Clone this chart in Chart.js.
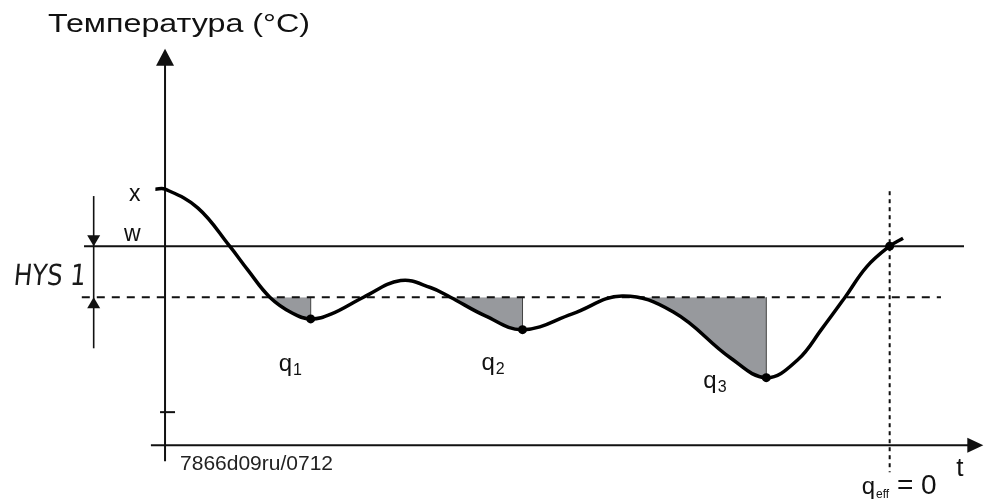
<!DOCTYPE html>
<html>
<head>
<meta charset="utf-8">
<script src="https://cdn.jsdelivr.net/npm/chart.js@4.4.1/dist/chart.umd.min.js"></script>
<style>
  html, body { margin: 0; padding: 0; background: #fff; }
  #wrap { width: 998px; height: 504px; position: relative; }
</style>
</head>
<body>
<div id="wrap"><canvas id="hysChart"></canvas></div>
<script>
// temperature curve: time (arbitrary units) / temperature (°C)
var curveTime = [-1.3, 0, 4.4, 8.7, 11.1, 14.1, 17.1, 19.6, 22.4, 26.7, 31.7, 35.7, 38.4, 43.1, 48.1, 54.8, 61.5, 68.4, 76.1, 80.9, 85.1, 88.4, 91.5, 94.4, 97.5, 99.3];
var curveTemp = [22.23, 22.23, 21.5, 20.0, 19.08, 18.0, 17.38, 17.15, 17.35, 18.0, 18.65, 18.38, 18.0, 17.27, 16.73, 17.35, 18.05, 17.42, 15.62, 14.85, 15.54, 16.77, 18.0, 19.19, 20.0, 20.31];

var setpoint = 20;   // w
var hys = 2;         // HYS 1

// shaded areas q1..q3
var qStart = [14.1, 38.4, 61.5];
var qEnd = [19.6, 48.1, 80.9];
var qTemp = [17.15, 16.73, 14.85];
var qNames = ["1", "2", "3"];

// point where q_eff = 0
var effTime = 97.5;

// labels
var titleText = "Температура (°C)";
var codeText = "7866d09ru/0712";
var hysText = "HYS 1";

var X_MIN = -21.6, X_MAX = 111.47;
var Y_MIN = 10.08, Y_MAX = 29.46;
var FONT = '"Liberation Sans", Arial, sans-serif';

function sc(chart) {
  var xs = chart.scales.x, ys = chart.scales.y;
  return {
    X: function (v) { return xs.getPixelForValue(v); },
    Y: function (v) { return ys.getPixelForValue(v); }
  };
}

function arrow(ctx, x, y, dir, len, half) {
  ctx.beginPath();
  ctx.moveTo(x, y);
  if (dir === "up") { ctx.lineTo(x - half, y + len); ctx.lineTo(x + half, y + len); }
  if (dir === "down") { ctx.lineTo(x - half, y - len); ctx.lineTo(x + half, y - len); }
  if (dir === "right") { ctx.lineTo(x - len, y - half); ctx.lineTo(x - len, y + half); }
  ctx.closePath();
  ctx.fill();
}

function subText(ctx, x, y, main, sub, size, subSize) {
  ctx.font = size + "px " + FONT;
  ctx.fillText(main, x, y);
  var w = ctx.measureText(main).width;
  ctx.font = subSize + "px " + FONT;
  ctx.fillText(sub, x + w + 1, y + 4);
  return x + w + 1 + ctx.measureText(sub).width;
}

// text squeezed/stretched to a given width
function fitText(ctx, text, x, y, font, width, skew) {
  ctx.save();
  ctx.font = font;
  var k = width / ctx.measureText(text).width;
  ctx.translate(x, y);
  ctx.transform(k, 0, skew || 0, 1, 0, 0);
  ctx.fillText(text, 0, 0);
  ctx.restore();
}

var diagramPlugin = {
  id: "diagram",
  beforeDatasetsDraw: function (chart) {
    var ctx = chart.ctx, s = sc(chart), X = s.X, Y = s.Y;
    var line = chart.getDatasetMeta(1).dataset;
    if (line.updateControlPoints) line.updateControlPoints(chart.chartArea, "x");
    var pts = line.points, first = pts[0], last = pts[pts.length - 1];
    var yLow = Y(setpoint - hys);

    // grey areas between the curve and the lower switching line
    qStart.forEach(function (st, i) {
      ctx.save();
      ctx.beginPath();
      ctx.rect(X(st), yLow, X(qEnd[i]) - X(st), chart.height - yLow);
      ctx.clip();
      ctx.beginPath();
      line.path(ctx);
      ctx.lineTo(last.x, yLow);
      ctx.lineTo(first.x, yLow);
      ctx.closePath();
      ctx.fillStyle = "#97999d";
      ctx.fill();
      ctx.restore();

      ctx.save();
      ctx.strokeStyle = "#444";
      ctx.lineWidth = 1;
      ctx.beginPath();
      ctx.moveTo(X(qEnd[i]), yLow);
      ctx.lineTo(X(qEnd[i]), Y(qTemp[i]));
      ctx.stroke();
      ctx.restore();
    });

    ctx.save();
    ctx.strokeStyle = "#111";
    ctx.fillStyle = "#111";
    ctx.lineWidth = 2;

    // temperature axis
    var ax = X(0);
    ctx.beginPath();
    ctx.moveTo(ax, Y(11.58));
    ctx.lineTo(ax, Y(27.73) + 12);
    ctx.stroke();
    arrow(ctx, ax, Y(27.73), "up", 17, 9);
    ctx.beginPath();
    ctx.moveTo(ax - 5, Y(13.5));
    ctx.lineTo(ax + 10, Y(13.5));
    ctx.stroke();

    // time axis
    var ay = Y(12.2);
    ctx.beginPath();
    ctx.moveTo(X(-1.9), ay);
    ctx.lineTo(X(110.1) - 10, ay);
    ctx.stroke();
    arrow(ctx, X(110.1), ay, "right", 16, 7.5);

    // hysteresis dimension arrow
    var hx = X(-9.6);
    ctx.lineWidth = 1.6;
    ctx.beginPath();
    ctx.moveTo(hx, Y(21.96));
    ctx.lineTo(hx, Y(16.0));
    ctx.stroke();
    arrow(ctx, hx, Y(setpoint), "down", 11, 6.5);
    arrow(ctx, hx, Y(setpoint - hys), "up", 11, 6.5);
    ctx.restore();
  },
  afterDraw: function (chart) {
    var ctx = chart.ctx, s = sc(chart), X = s.X, Y = s.Y;
    ctx.save();
    ctx.fillStyle = "#111";
    ctx.textAlign = "left";
    ctx.textBaseline = "alphabetic";

    fitText(ctx, titleText, 48, 32, "26px " + FONT, 262);

    ctx.font = "23px " + FONT;
    ctx.fillText("x", 129, Y(curveTemp[0]) + 12);
    ctx.fillText("w", 124, Y(setpoint) - 5);

    // HYS 1 (display style)
    ctx.fillStyle = "#1a1a1a";
    fitText(ctx, hysText, 13, Y(setpoint - 1) + 13, '29px "DejaVu Sans", sans-serif', 72, -0.1);
    ctx.fillStyle = "#111";

    var offs = [[-32, 52], [-41, 40], [-63, 10]];
    qEnd.forEach(function (t, i) {
      subText(ctx, X(t) + offs[i][0], Y(qTemp[i]) + offs[i][1], "q", qNames[i], 24, 16);
    });

    var ay = Y(12.2);
    var ex = subText(ctx, X(effTime) - 28, ay + 49, "q", "eff", 24, 12);
    ctx.font = "28px " + FONT;
    ctx.fillText(" = 0", ex, ay + 49);

    ctx.font = "26px " + FONT;
    ctx.fillText("t", X(110.1) - 27, ay + 31);

    ctx.fillStyle = "#222";
    ctx.font = "21px " + FONT;
    ctx.fillText(codeText, X(0) + 15, ay + 25);
    ctx.restore();
  }
};

var curveData = curveTime.map(function (t, i) { return { x: t, y: curveTemp[i] }; });
var dotData = qEnd.map(function (t, i) { return { x: t, y: qTemp[i] }; });
dotData.push({ x: effTime, y: setpoint });

new Chart(document.getElementById("hysChart"), {
  type: "line",
  data: {
    datasets: [
      { data: dotData, showLine: false, pointRadius: 4.5, pointBackgroundColor: "#000", pointBorderWidth: 0 },
      { data: curveData, borderColor: "#000", borderWidth: 3.5, tension: 0.4, pointRadius: 0, fill: false },
      { data: [{ x: -10.9, y: setpoint }, { x: 107.5, y: setpoint }], borderColor: "#111", borderWidth: 2, pointRadius: 0 },
      { data: [{ x: -11.2, y: setpoint - hys }, { x: 104.4, y: setpoint - hys }], borderColor: "#111", borderWidth: 2, borderDash: [8, 7], pointRadius: 0 },
      { data: [{ x: effTime, y: 22.15 }, { x: effTime, y: 11.15 }], borderColor: "#111", borderWidth: 2, borderDash: [4, 4], pointRadius: 0 }
    ]
  },
  options: {
    responsive: true,
    maintainAspectRatio: false,
    animation: false,
    layout: { padding: 0 },
    plugins: { legend: { display: false }, tooltip: { enabled: false } },
    scales: {
      x: { type: "linear", display: false, min: X_MIN, max: X_MAX },
      y: { type: "linear", display: false, min: Y_MIN, max: Y_MAX }
    }
  },
  plugins: [diagramPlugin]
});
</script>
</body>
</html>
